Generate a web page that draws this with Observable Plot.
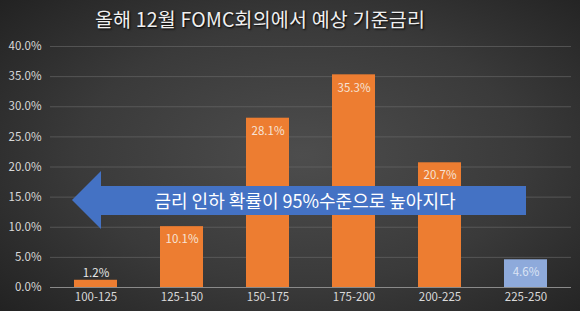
<!DOCTYPE html>
<html><head><meta charset="utf-8">
<script src="https://cdn.jsdelivr.net/npm/d3@7"></script>
<script src="https://cdn.jsdelivr.net/npm/@observablehq/plot@0.6"></script>
<style>
html,body{margin:0;padding:0;}
body{width:580px;height:311px;overflow:hidden;background:radial-gradient(ellipse 70% 75% at 52% 50%, #4d4d4d 0%, #3a3a3a 55%, #222 100%);font-family:"Noto Sans CJK KR","Noto Sans",sans-serif;}
#wrap{position:relative;width:580px;height:311px;}
#title{position:absolute;top:4px;left:60px;width:400px;text-align:center;color:#f0f0f0;font-size:19.5px;text-shadow:1px 1px 2px #000;letter-spacing:0.2px;}
#arrow{position:absolute;left:72px;top:171px;width:454px;height:58px;background:#4472c4;clip-path:polygon(0 50%, 29px 0, 29px 15px, 454px 15px, 454px 44px, 29px 44px, 29px 58px);}
#arrowText{position:absolute;left:105px;top:186px;width:400px;height:29px;line-height:29px;text-align:center;color:#fff;font-size:18px;}
svg{position:absolute;left:0;top:0;}
</style></head>
<body><div id="wrap"><div id="chart"></div><div id="arrow"></div><div id="arrowText">금리 인하 확률이 95%수준으로 높아지다</div><div id="title">올해 12월 FOMC회의에서 예상 기준금리</div></div>
<script>
const categories = ["100-125","125-150","150-175","175-200","200-225","225-250"];
const values = [1.2, 10.1, 28.1, 35.3, 20.7, 4.6];
const highlight = [false, false, false, false, false, true];
const yTicks = [0,5,10,15,20,25,30,35,40];

const data = categories.map((c,i)=>({cat:c, v:values[i], hi:highlight[i]}));

const chart = Plot.plot({
  width:580, height:311,
  marginTop:46, marginBottom:24, marginLeft:50, marginRight:9,
  style:{background:"transparent", fontFamily:"'Noto Sans CJK KR','Noto Sans',sans-serif", fontSize:"11.5px", color:"#d9d9d9"},
  x:{domain:categories, paddingInner:0.5, paddingOuter:0.25, align:0.5, label:null, tickSize:0, tickPadding:5},
  y:{domain:[0,40], ticks:yTicks, tickFormat:d=>d.toFixed(1)+"%", label:null, tickSize:0, tickPadding:9},
  marks:[
    Plot.gridY(yTicks.filter(d=>d>0), {stroke:"#6a6a6a", strokeOpacity:0.6, strokeWidth:1}),
    Plot.barY(data, {x:"cat", y:"v", fill:d=>d.hi?"#8eaadb":"#ed7d31"}),
    Plot.ruleY([0], {stroke:"#8a8a8a"}),
    Plot.text(data.filter(d=>d.v>=3), {x:"cat", y:"v", text:d=>d.v.toFixed(1)+"%", dy:13, fill:d=>d.hi?"#dbe4f5":"#f6e3d6", fontSize:11.5}),
    Plot.text(data.filter(d=>d.v<3), {x:"cat", y:"v", text:d=>d.v.toFixed(1)+"%", dy:-7, fill:"#e6e6e6", fontSize:11.5})
  ]
});
document.getElementById("chart").appendChild(chart);
</script></body></html>
